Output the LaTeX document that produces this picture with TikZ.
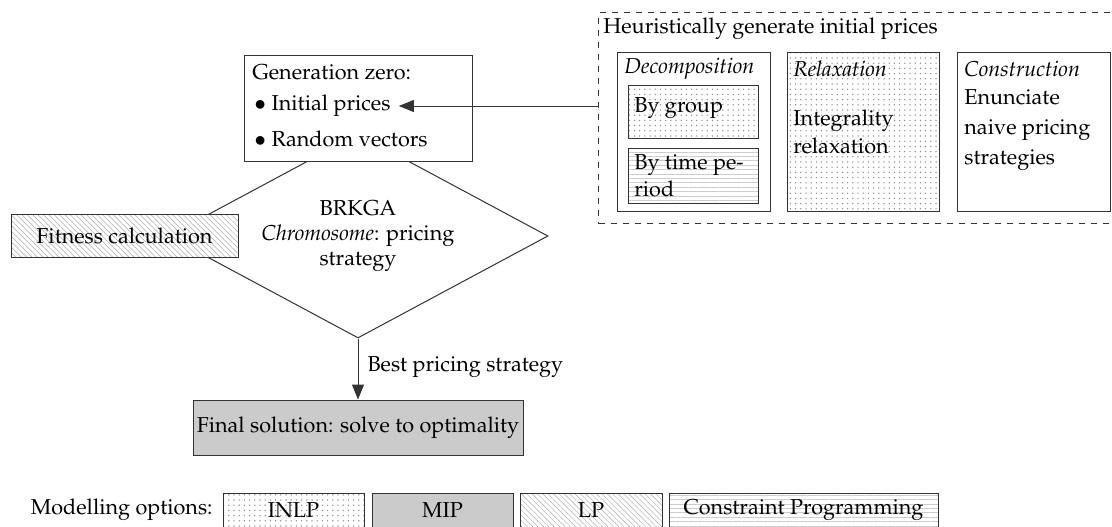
\documentclass[tikz,border=0pt]{standalone}
\usepackage[T1]{fontenc}
\usepackage{mathpazo}
\usetikzlibrary{patterns.meta,arrows.meta,shapes.geometric,calc}
\definecolor{bordc}{HTML}{333333}
\definecolor{fillg}{HTML}{CBCBCB}
\tikzset{
  every node/.style={font=\fontsize{10.8}{13}\selectfont, text=black},
  box/.style={draw=bordc, line width=0.5pt, rectangle, inner sep=0pt},
  dotsfill/.style={pattern={Dots[distance=2.6pt,radius=0.38pt]}, pattern color=black!45},
  hatchfill/.style={pattern={Lines[angle=-45,distance=1.9pt,line width=0.25pt]}, pattern color=black!32},
  hlinefill/.style={pattern={Lines[angle=0,distance=2.2pt,line width=0.35pt]}, pattern color=black!20},
  grayfill/.style={fill=fillg},
  txt/.style={inner sep=0pt, anchor=west},
  arr/.style={draw=bordc, line width=0.5pt, -{Triangle[length=7.5pt,width=6pt]}},
}
\begin{document}
\begin{tikzpicture}[x=0.5pt,y=-0.5pt]
\useasboundingbox (0,0) rectangle (1112,526);
\clip (0,0) rectangle (1112,526);

% BRKGA diamond
\node[diamond, aspect=1.86, draw=bordc, line width=0.5pt, minimum width=190pt, minimum height=102pt,
      inner sep=0pt, align=center, font=\fontsize{10.8}{12.5}\selectfont] (brkga) at (358,236)
      {BRKGA\\\textit{Chromosome}: pricing\\strategy};

% Generation zero
\node[box, fill=white, minimum width=114pt, minimum height=53pt] (gen) at (358,108) {};
\node[txt] (gtitle) at (252,72) {Generation zero:};
\node[txt] (init) at (254,106) {$\bullet$ Initial prices};
\node[txt] (randv) at (254,139) {$\bullet$ Random vectors};

% Fitness
\node[box, preaction={fill=white}, hatchfill, minimum width=113.5pt, minimum height=21.5pt] (fit) at (124.5,235.5) {Fitness calculation};

% Heuristic box
\node[box, dashed, minimum width=261pt, minimum height=105.5pt, anchor=north west] (heur) at (598,12) {};
\node[txt] (htitle) at (603,29) {Heuristically generate initial prices};

\node[box, minimum width=76.5pt, minimum height=79.5pt, anchor=north west] (decomp) at (617,52) {};
\node[txt] (decompl) at (624,69) {\textit{Decomposition}};
\node[box, dotsfill, minimum width=65pt, minimum height=26.5pt, anchor=north west] (bygroup) at (628,85) {};
\node[txt] (bygroupt) at (634,108) {By group};
\node[box, hlinefill, minimum width=65pt, minimum height=27.5pt, anchor=north west] (bytime) at (628,148) {};
\node[txt, align=left, font=\fontsize{10.8}{13.5}\selectfont] (bytimet) at (634,176) {By time pe-\\riod};

\node[box, dotsfill, minimum width=76pt, minimum height=79.5pt, anchor=north west] (relax) at (787,52) {};
\node[txt] (relaxl) at (793,69) {\textit{Relaxation}};
\node[txt, align=left, font=\fontsize{10.8}{14}\selectfont] (relaxt) at (793,132) {Integrality\\relaxation};

\node[box, minimum width=76.5pt, minimum height=79.5pt, anchor=north west] (constr) at (957,52) {};
\node[txt] (constrl) at (964,69) {\textit{Construction}};
\node[txt, align=left, font=\fontsize{10.8}{15}\selectfont] (constrt) at (964,130) {Enunciate\\naive pricing\\strategies};

\draw[arr] (heur.west |- init.east) -- ([xshift=4pt]init.east);

% Final solution
\node[box, grayfill, minimum width=165pt, minimum height=27.5pt] (final) at (358,427.5) {Final solution: solve to optimality};
\draw[arr] (brkga.south) -- (final.north) node[pos=0.47, anchor=west, xshift=4.5pt, inner sep=0pt] (bestl) {Best pricing strategy};

% Legend
\node[txt, anchor=east] (legl) at (213,510) {Modelling options:};
\node[box, dotsfill, minimum width=70.5pt, minimum height=17.5pt] (inlp) at (293.5,510.5) {INLP};
\node[box, grayfill, minimum width=70.5pt, minimum height=17.5pt] (mip) at (442.5,510.5) {MIP};
\node[box, hatchfill, minimum width=71pt, minimum height=17.5pt] (lp) at (591,510.5) {LP};
\node[box, hlinefill, minimum width=134.5pt, minimum height=17.5pt] (cp) at (803.5,510.5) {Constraint Programming};
\end{tikzpicture}
\end{document}
